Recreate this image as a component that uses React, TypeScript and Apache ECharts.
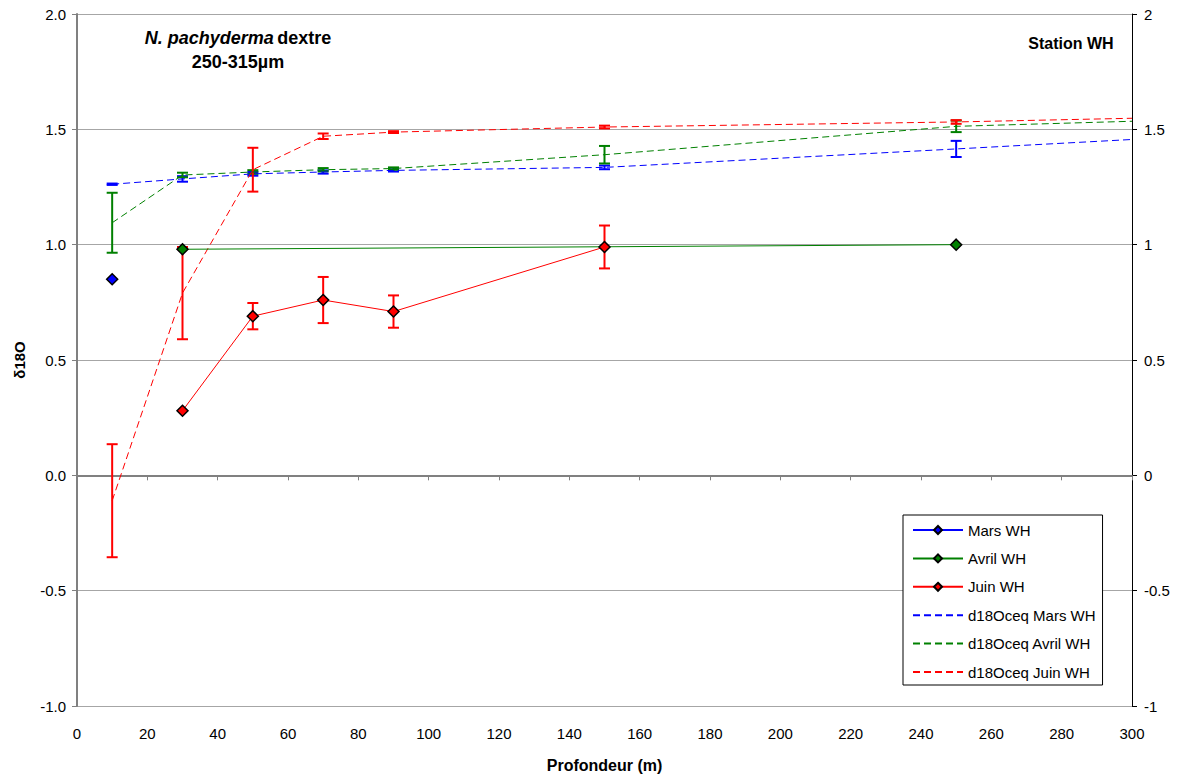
import React, { useEffect, useRef } from "react";
import * as echarts from "echarts";

const FONT = '"Liberation Sans", Arial, sans-serif';

// Measured series (solid)
const depthMars = [10];
const marsWH = [0.85];
const depthAvril = [30, 250];
const avrilWH = [0.98, 1.0];
const depthJuin = [30, 50, 70, 90, 150];
const juinWH = [0.28, 0.69, 0.76, 0.71, 0.99];
const juinErr = [0, 0.057, 0.1, 0.07, 0.093];

// Equilibrium series (dashed)
const depthCeq = [10, 30, 50, 70, 90, 150, 250, 300];
const ceqMars = [1.262, 1.285, 1.307, 1.315, 1.322, 1.335, 1.415, 1.456];
const ceqMarsErr = [0.003, 0.012, 0.008, 0.007, 0.005, 0.008, 0.035, 0];
const ceqAvril = [1.095, 1.302, 1.315, 1.325, 1.33, 1.39, 1.513, 1.535];
const ceqAvrilErr = [0.13, 0.01, 0.008, 0.007, 0.005, 0.038, 0.025, 0];
const ceqJuin = [-0.11, 0.79, 1.325, 1.47, 1.488, 1.51, 1.532, 1.548];
const ceqJuinErr = [0.245, 0.2, 0.095, 0.012, 0.004, 0.006, 0.008, 0];

const xTicks = { min: 0, max: 300, interval: 20 };
const yTicks = { min: -1, max: 2, interval: 0.5 };

const BLUE = "#0000FF";
const GREEN = "#008000";
const RED = "#FF0000";

const pairs = (xs: number[], ys: number[]) => xs.map((x, i) => [x, ys[i]]);
const errRows = (xs: number[], ys: number[], es: number[]) =>
  xs
    .map((x, i) => [x, ys[i] - es[i], ys[i] + es[i], es[i]])
    .filter((r) => r[3] > 0)
    .map((r) => [r[0], r[1], r[2]]);

function errorSeries(name: string, data: number[][], color: string) {
  return {
    name,
    type: "custom",
    z: 2,
    silent: true,
    data,
    encode: { x: 0, y: [1, 2] },
    renderItem: (_params: any, api: any) => {
      const x = api.value(0);
      const top = api.coord([x, api.value(2)]);
      const bot = api.coord([x, api.value(1)]);
      const hw = 5.5;
      const style = { stroke: color, lineWidth: 2 };
      return {
        type: "group",
        children: [
          { type: "line", shape: { x1: top[0], y1: top[1], x2: bot[0], y2: bot[1] }, style },
          { type: "line", shape: { x1: top[0] - hw, y1: top[1], x2: top[0] + hw, y2: top[1] }, style },
          { type: "line", shape: { x1: bot[0] - hw, y1: bot[1], x2: bot[0] + hw, y2: bot[1] }, style },
        ],
      };
    },
  };
}

function solidSeries(name: string, data: number[][], color: string) {
  return {
    name,
    type: "line",
    z: 4,
    data,
    symbol: "diamond",
    symbolSize: 11,
    showSymbol: true,
    lineStyle: { color, width: 1 },
    itemStyle: { color, borderColor: "#000000", borderWidth: 1.5 },
  };
}

function dashedSeries(name: string, data: number[][], color: string) {
  return {
    name,
    type: "line",
    z: 3,
    data,
    symbol: "none",
    showSymbol: false,
    lineStyle: { color, width: 1, type: [7, 4] },
    itemStyle: { color, opacity: 0 },
  };
}

export default function App() {
  const ref = useRef<HTMLDivElement>(null);
  useEffect(() => {
    if (!ref.current) return;
    const chart = echarts.init(ref.current, null, { renderer: "svg" });
    const legendNames = [
      "Mars WH",
      "Avril WH",
      "Juin WH",
      "d18Oceq Mars WH",
      "d18Oceq Avril WH",
      "d18Oceq Juin WH",
    ];
    const axisLabelStyle = { color: "#000000", fontFamily: FONT, fontSize: 15 };
    chart.setOption({
      animation: false,
      backgroundColor: "#ffffff",
      textStyle: { fontFamily: FONT },
      grid: { left: 77, right: 51, top: 14, bottom: 71 },
      xAxis: {
        type: "value",
        min: xTicks.min,
        max: xTicks.max,
        interval: xTicks.interval,
        name: "Profondeur (m)",
        nameLocation: "middle",
        nameGap: 51,
        nameTextStyle: { color: "#000", fontFamily: FONT, fontSize: 16, fontWeight: "bold" },
        axisLine: { show: true, lineStyle: { color: "#808080", width: 2 } },
        axisTick: { show: true, inside: false, length: 5, lineStyle: { color: "#808080" } },
        axisLabel: { ...axisLabelStyle, margin: 20 },
        splitLine: { show: false },
      },
      yAxis: [
        {
          type: "value",
          position: "left",
          min: yTicks.min,
          max: yTicks.max,
          interval: yTicks.interval,
          name: "δ18O",
          nameLocation: "middle",
          nameRotate: 90,
          nameGap: 50,
          nameTextStyle: { color: "#000", fontFamily: FONT, fontSize: 15, fontWeight: "bold" },
          axisLine: { show: true, lineStyle: { color: "#808080", width: 2 } },
          axisTick: { show: true, inside: false, length: 5, lineStyle: { color: "#808080" } },
          axisLabel: { ...axisLabelStyle, margin: 11, formatter: (v: number) => v.toFixed(1) },
          splitLine: { show: true, lineStyle: { color: "#a6a6a6", width: 1 } },
        },
        {
          type: "value",
          position: "right",
          min: yTicks.min,
          max: yTicks.max,
          interval: yTicks.interval,
          axisLine: { show: true, lineStyle: { color: "#000000", width: 1 } },
          axisTick: { show: true, inside: false, length: 5, lineStyle: { color: "#000000" } },
          axisLabel: { ...axisLabelStyle, margin: 12, formatter: (v: number) => String(v) },
          splitLine: { show: false },
        },
      ],
      legend: {
        data: legendNames,
        orient: "vertical",
        left: 903,
        top: 515,
        itemWidth: 50,
        itemHeight: 10,
        itemGap: 12.4,
        padding: [7, 7, 5, 9],
        borderColor: "#000000",
        borderWidth: 1,
        backgroundColor: "#ffffff",
        textStyle: { color: "#000", fontFamily: FONT, fontSize: 15, lineHeight: 16 },
      },
      graphic: [
        {
          type: "text",
          x: 238,
          y: 50,
          style: {
            text: "{i|N. pachyderma} {b|dextre}\n{b|250-315µm}",
            align: "center",
            verticalAlign: "middle",
            fill: "#000",
            rich: {
              i: { fontFamily: FONT, fontSize: 18, fontWeight: "bold", fontStyle: "italic", lineHeight: 24, fill: "#000" },
              b: { fontFamily: FONT, fontSize: 18, fontWeight: "bold", lineHeight: 24, fill: "#000" },
            },
          },
        },
        {
          type: "text",
          x: 1071,
          y: 43,
          style: {
            text: "Station WH",
            align: "center",
            verticalAlign: "middle",
            fill: "#000",
            font: `bold 16px ${FONT}`,
          },
        },
      ],
      series: [
        errorSeries("err d18Oceq Mars", errRows(depthCeq, ceqMars, ceqMarsErr), BLUE),
        errorSeries("err d18Oceq Avril", errRows(depthCeq, ceqAvril, ceqAvrilErr), GREEN),
        errorSeries("err d18Oceq Juin", errRows(depthCeq, ceqJuin, ceqJuinErr), RED),
        errorSeries("err Juin", errRows(depthJuin, juinWH, juinErr), RED),
        dashedSeries("d18Oceq Mars WH", pairs(depthCeq, ceqMars), BLUE),
        dashedSeries("d18Oceq Avril WH", pairs(depthCeq, ceqAvril), GREEN),
        dashedSeries("d18Oceq Juin WH", pairs(depthCeq, ceqJuin), RED),
        solidSeries("Mars WH", pairs(depthMars, marsWH), BLUE),
        solidSeries("Avril WH", pairs(depthAvril, avrilWH), GREEN),
        solidSeries("Juin WH", pairs(depthJuin, juinWH), RED),
      ],
    });
    return () => chart.dispose();
  }, []);
  return (
    <div
      ref={ref}
      style={{ position: "fixed", left: 0, top: 0, width: 1183, height: 778, background: "#fff" }}
    />
  );
}
